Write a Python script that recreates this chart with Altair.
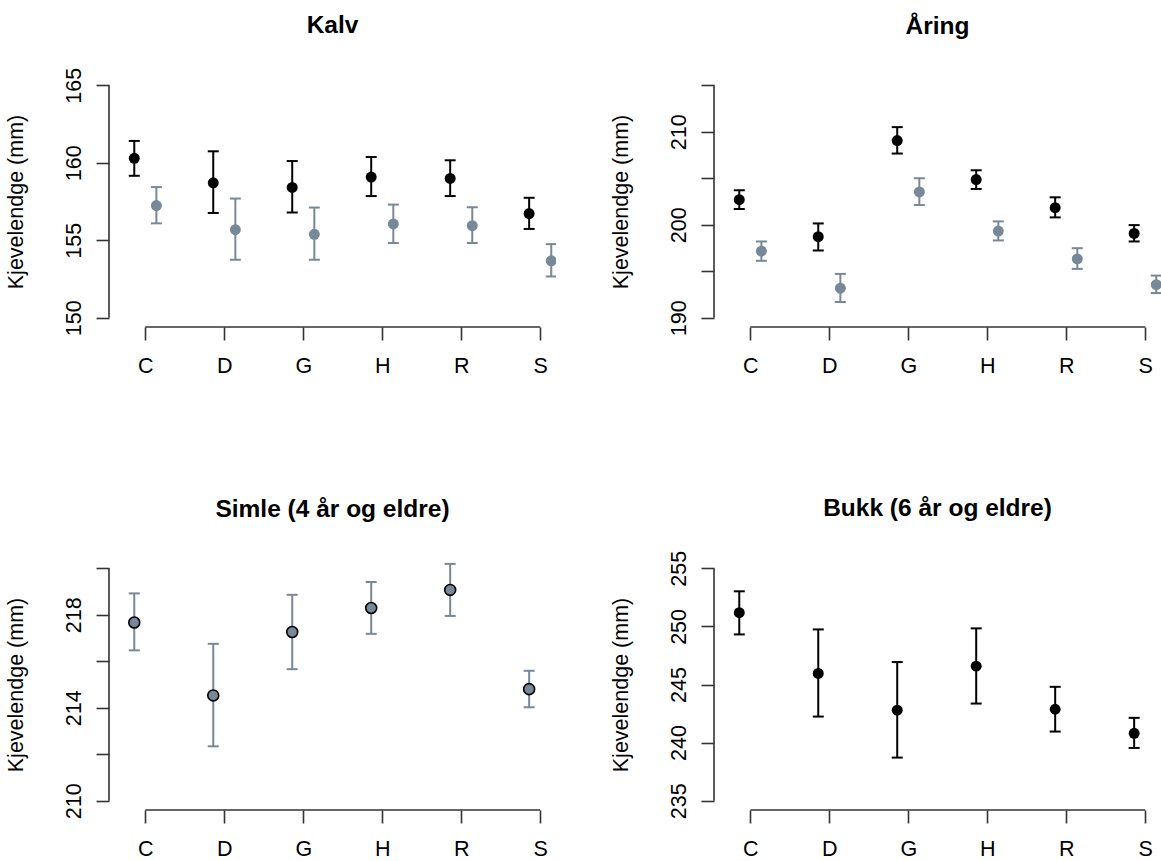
import altair as alt
import pandas as pd

sites = ["C", "D", "G", "H", "R", "S"]

# Kalv (calf): black = first group, grey = second group
kalv_black_mean = [160.29, 158.71, 158.41, 159.08, 158.99, 156.72]
kalv_black_lo = [159.16, 156.76, 156.79, 157.85, 157.85, 155.73]
kalv_black_hi = [161.41, 160.74, 160.11, 160.37, 160.16, 157.74]
kalv_grey_mean = [157.24, 155.68, 155.38, 156.05, 155.94, 153.67]
kalv_grey_lo = [156.09, 153.74, 153.74, 154.82, 154.82, 152.66]
kalv_grey_hi = [158.43, 157.69, 157.11, 157.30, 157.13, 154.75]

# Åring (yearling)
aring_black_mean = [202.70, 198.71, 209.06, 204.86, 201.83, 199.06]
aring_black_lo = [201.69, 197.23, 207.66, 203.85, 200.79, 198.20]
aring_black_hi = [203.71, 200.14, 210.50, 205.86, 202.95, 199.96]
aring_grey_mean = [197.16, 193.17, 203.53, 199.32, 196.33, 193.56]
aring_grey_lo = [196.12, 191.69, 202.12, 198.31, 195.25, 192.66]
aring_grey_hi = [198.20, 194.71, 205.00, 200.36, 197.48, 194.53]

# Simle (4 år og eldre)
simle_mean = [217.67, 214.53, 217.26, 218.29, 219.07, 214.80]
simle_lo = [216.47, 212.34, 215.66, 217.18, 217.95, 214.02]
simle_hi = [218.92, 216.75, 218.86, 219.41, 220.19, 215.59]

# Bukk (6 år og eldre)
bukk_mean = [251.18, 245.95, 242.79, 246.58, 242.87, 240.80]
bukk_lo = [249.31, 242.24, 238.71, 243.36, 240.95, 239.54]
bukk_hi = [253.02, 249.74, 246.93, 249.83, 244.80, 242.13]

# axis ticks and which ticks carry a label
kalv_ticks = [150, 155, 160, 165]
kalv_labels = [150, 155, 160, 165]
aring_ticks = [190, 195, 200, 205, 210, 215]
aring_labels = [190, 200, 210]
simle_ticks = [210, 212, 214, 216, 218, 220]
simle_labels = [210, 214, 218]
bukk_ticks = [235, 240, 245, 250, 255]
bukk_labels = [235, 240, 245, 250, 255]

BLACK = "#000000"
GREY = "#778899"
AXIS = "#333333"
FONT = "Liberation Sans"
W, H = 447, 251
LEFT_OFF, RIGHT_OFF = -0.14, 0.14


def series_df(mean, lo, hi, offset):
    return pd.DataFrame({
        "site": sites,
        "x": [i + 1 + offset for i in range(len(sites))],
        "mean": mean,
        "lo": lo,
        "hi": hi,
    })


def panel(title, series, ticks, labels):
    span = ticks[-1] - ticks[0]
    ydom = [ticks[0] - 0.04 * span, ticks[-1] + 0.04 * span]
    xdom = [0.54, 6.2]
    label_list = "[" + ",".join(str(v) for v in labels) + "]"
    site_list = "[" + ",".join("'" + s + "'" for s in sites) + "]"
    top_labelled = ticks[-1] in labels

    xscale = alt.Scale(domain=xdom, nice=False, zero=False)
    yscale = alt.Scale(domain=ydom, nice=False, zero=False)
    xaxis = alt.Axis(
        values=list(range(1, len(sites) + 1)),
        labelExpr=site_list + "[datum.value - 1]",
        domain=False, grid=False, title=None,
        tickSize=13, tickWidth=1.6, tickColor=AXIS,
        labelFontSize=21.5, labelFont=FONT, labelColor="#000000",
        labelPadding=15, labelAngle=0, labelAlign="center", labelBaseline="top",
    )
    yaxis = alt.Axis(
        values=ticks,
        labelExpr="indexof(" + label_list + ", datum.value) >= 0 ? datum.label : ''",
        domain=False, grid=False,
        tickSize=13, tickWidth=1.6, tickColor=AXIS,
        labelFontSize=21.5, labelFont=FONT, labelColor="#000000",
        labelPadding=16, labelAngle=270, labelAlign="center",
        labelBaseline="alphabetic", labelOverlap=False,
        title="Kjevelendge (mm)", titleFontSize=21.5, titleFont=FONT,
        titleFontWeight="normal", titleColor="#000000",
        titleAngle=270, titleBaseline="alphabetic", titleX=-87,
    )

    def X(field):
        return alt.X(field, type="quantitative", scale=xscale, axis=xaxis)

    def Y(field):
        return alt.Y(field, type="quantitative", scale=yscale, axis=yaxis)

    layers = []
    for (mean, lo, hi, offset, color, stroke) in series:
        df = series_df(mean, lo, hi, offset)
        base = alt.Chart(df)
        layers.append(base.mark_rule(color=color, strokeWidth=2, clip=True)
                      .encode(x=X("x"), y=Y("lo"), y2="hi"))
        layers.append(base.mark_tick(color=color, orient="horizontal", size=11,
                                     thickness=2, clip=True, opacity=1)
                      .encode(x=X("x"), y=Y("lo")))
        layers.append(base.mark_tick(color=color, orient="horizontal", size=11,
                                     thickness=2, clip=True, opacity=1)
                      .encode(x=X("x"), y=Y("hi")))
        pt = dict(color=color, size=120, opacity=1, clip=True)
        if stroke:
            pt.update(stroke=stroke, strokeWidth=1.6)
        layers.append(base.mark_circle(**pt).encode(x=X("x"), y=Y("mean")))

    ydom_line = alt.Chart(pd.DataFrame({"y0": [ticks[0]], "y1": [ticks[-1]]})) \
        .mark_rule(color=AXIS, strokeWidth=1.6) \
        .encode(x=alt.value(0), y=Y("y0"), y2="y1")
    xdom_line = alt.Chart(pd.DataFrame({"x0": [1], "x1": [len(sites)]})) \
        .mark_rule(color=AXIS, strokeWidth=1.6) \
        .encode(x=X("x0"), x2="x1", y=alt.value(H))

    return alt.layer(*layers, ydom_line, xdom_line).properties(
        width=W, height=H,
        title=alt.TitleParams(title, fontSize=24.5, fontWeight="bold", font=FONT,
                              color="#000000", anchor="middle", frame="group",
                              baseline="alphabetic",
                              offset=10 if top_labelled else 18),
    )


p1 = panel("Kalv", [
    (kalv_black_mean, kalv_black_lo, kalv_black_hi, LEFT_OFF, BLACK, None),
    (kalv_grey_mean, kalv_grey_lo, kalv_grey_hi, RIGHT_OFF, GREY, None),
], kalv_ticks, kalv_labels)

p2 = panel("Åring", [
    (aring_black_mean, aring_black_lo, aring_black_hi, LEFT_OFF, BLACK, None),
    (aring_grey_mean, aring_grey_lo, aring_grey_hi, RIGHT_OFF, GREY, None),
], aring_ticks, aring_labels)

p3 = panel("Simle (4 år og eldre)", [
    (simle_mean, simle_lo, simle_hi, LEFT_OFF, GREY, "#000000"),
], simle_ticks, simle_labels)

p4 = panel("Bukk (6 år og eldre)", [
    (bukk_mean, bukk_lo, bukk_hi, LEFT_OFF, BLACK, None),
], bukk_ticks, bukk_labels)

chart = alt.concat(p1, p2, p3, p4, columns=2,
                   spacing={"row": 232, "column": 158}, bounds="flush") \
    .properties(padding={"left": 5, "top": 12, "right": 0, "bottom": 0},
                background="#ffffff") \
    .configure_view(stroke=None)

chart.save("out.html", embed_options={"renderer": "svg", "actions": False})
